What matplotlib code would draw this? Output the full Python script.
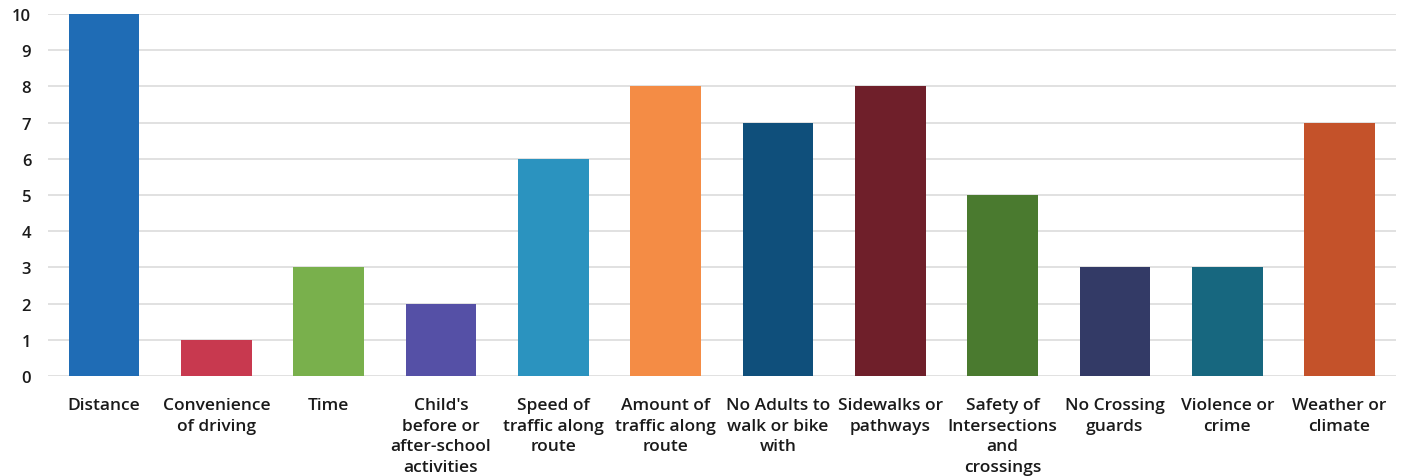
import matplotlib
matplotlib.use("Agg")
import matplotlib.pyplot as plt

categories = [
    "Distance", "Convenience\nof driving", "Time",
    "Child's\nbefore or\nafter-school\nactivities",
    "Speed of\ntraffic along\nroute", "Amount of\ntraffic along\nroute",
    "No Adults to\nwalk or bike\nwith", "Sidewalks or\npathways",
    "Safety of\nIntersections\nand\ncrossings", "No Crossing\nguards",
    "Violence or\ncrime", "Weather or\nclimate",
]
counts = [10, 1, 3, 2, 6, 8, 7, 8, 5, 3, 3, 7]
bar_colors = [
    "#1f6cb5", "#c8394f", "#79b04c", "#5550a6", "#2b93bf", "#f48c45",
    "#0f4f7b", "#6f1f2a", "#4a7a2f", "#333a66", "#17677f", "#c4522a",
]
y_ticks = list(range(0, 11))

plt.rcParams["font.family"] = ["Open Sans", "DejaVu Sans"]

fig = plt.figure(figsize=(14.07, 4.77), dpi=100)
ax = fig.add_axes([0.034, 0.2096, 0.958, 0.759])

x = range(len(categories))
ax.bar(x, counts, width=0.63, color=bar_colors, zorder=3)

ax.set_xlim(-0.5, len(categories) - 0.5)
ax.set_ylim(0, 10)
ax.set_yticks(y_ticks)
ax.set_yticklabels([str(t) for t in y_ticks], fontsize=12,
                   fontweight="semibold", color="#1a1a1a")
ax.set_xticks(list(x))
ax.set_xticklabels(categories, fontsize=12.5, fontweight="semibold",
                   color="#1a1a1a", linespacing=1.4)
ax.tick_params(axis="both", length=0)
ax.tick_params(axis="x", pad=15)
ax.tick_params(axis="y", pad=12)
ax.grid(axis="y", color="#dcdcdc", linewidth=1.2, zorder=0)
for s in ax.spines.values():
    s.set_visible(False)

fig.savefig("out.png", dpi=100, facecolor="white")
